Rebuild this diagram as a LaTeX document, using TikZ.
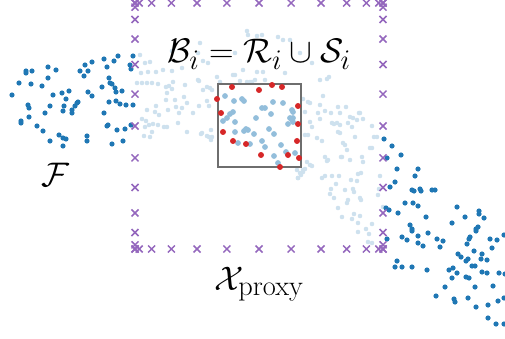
\documentclass[tikz,border=0pt]{standalone}
\usepackage{graphicx}
\usepackage{tikz}
\definecolor{ptblue}{HTML}{1F77B4}
\definecolor{ptred}{HTML}{D62728}
\definecolor{ptpurple}{HTML}{9467BD}
\definecolor{boxgray}{HTML}{6E6E6E}
\newcommand{\biglbl}[1]{\scalebox{1.37}{\Huge #1}}
\tikzset{
  farpt/.style={fill=ptblue},
  nearpt/.style={fill=ptblue!22},
  ownpt/.style={fill=ptblue!48},
  samppt/.style={fill=ptred},
  proxymark/.style={draw=ptpurple,line width=1.5pt},
  cellbox/.style={draw=boxgray,line width=1.8pt},
  biglabel/.style={inner sep=0pt}
}
\begin{document}
\begin{tikzpicture}[x=1pt,y=-1pt]
  \useasboundingbox (0,0) rectangle (505,339);
  \clip (0,0) rectangle (505,339);
  \foreach \x/\y in {140/55,145/63,150/62,141/73,148/72,156/72,137/83,142/83,147/83,152/83,158/84,166/87,169/86,172/89,167/93,175/100,166/100,184/97,187/103,198/80,203/90,207/87,207/101,199/106,182/108,179/113,176/107,156/106,155/112,159/115,147/110,142/119,146/121,149/125,145/127,153/124,158/125,152/132,144/136,150/137,167/127,178/123,187/132,202/133,207/136,211/130,172/51,203/61,208/63,163/70,172/71,182/68,173/82,185/85,199/81,212/90,193/113,209/106,168/110,201/134,209/137,164/127,247/31,248/35,257/36,257/72,247/82,235/75,243/70,200/43,198/53,235/53,262/35,278/37,283/40,290/40,300/53,312/63,285/73,263/72,255/80,217/77,220/82,233/75,250/82,240/81,252/82,265/80,210/88,212/137,320/80,327/79,329/77,323/96,303/99,308/102,310/103,305/112,320/105,318/113,325/111,331/113,338/107,346/107,340/113,359/113,353/118,357/120,363/119,350/117,360/113,320/119,332/123,334/124,337/123,348/123,372/126,310/122,312/127,352/127,340/125,338/132,340/133,308/135,317/138,322/141,343/143,345/145,355/137,374/137,377/137,347/150,372/148,370/148,325/157,362/157,328/160,342/157,350/160,363/162,310/165,327/161,341/157,305/169,312/166,298/178,301/175,322/178,325/176,332/176,339/176,336/184,351/180,357/181,358/174,361/173,380/176,331/189,330/194,345/190,353/189,354/192,334/198,348/200,347/203,360/198,361/200,379/189,378/195,338/208,342/217,354/214,360/216,352/219,358/223,372/224,366/229,358/232,369/234,368/242,372/243,297/170,300/173,298/178,303/170,211/140,383/207,305/135,307/162,303/172}
    \fill[nearpt] (\x,\y) circle[radius=2.3];
  \foreach \x/\y in {12/95,19/83,26/73,26/71,32/71,31/84,42/86,48/67,56/70,48/78,53/95,28/105,29/108,29/117,21/121,21/123,37/126,43/131,50/141,59/135,63/138,66/139,63/146,45/113,50/106,62/93,66/99,69/91,64/106,63/111,72/110,72/113,75/106,77/103,78/102,80/71,85/65,92/62,88/71,84/76,88/92,92/96,104/59,107/67,114/61,118/56,130/65,131/69,109/78,110/83,112/84,102/87,115/88,116/92,122/91,109/102,116/101,120/104,126/105,104/113,108/125,107/126,117/130,125/129,131/125,87/136,87/141,112/144,123/141,133/56,133/105,
    384/139,392/146,401/155,387/158,397/169,418/169,415/176,395/182,390/187,412/190,414/191,420/189,421/191,432/190,435/190,405/203,413/203,418/206,386/208,389/210,398/213,457/207,426/217,479/211,479/214,484/218,465/217,452/223,410/225,412/229,478/227,476/229,
    387/239,402/237,407/240,412/231,418/236,418/243,423/246,428/233,437/239,443/241,440/247,476/231,470/237,469/239,467/244,490/239,497/240,504/235,492/248,474/251,482/254,458/254,461/257,466/261,468/259,481/259,487/260,472/266,475/266,397/261,395/267,402/267,412/267,427/270,449/270,453/268,457/273,452/278,466/277,469/278,482/272,487/273,499/273,505/274,445/287,475/287,493/286,436/296,454/299,455/302,468/298,498/301,504/298,476/307,488/305,488/318,496/324,504/324}
    \fill[farpt] (\x,\y) circle[radius=2.6];
  \draw[cellbox] (218,84) rectangle (301,167);
  \foreach \x/\y in {225/96,234/101,242/99,244/101,262/108,265/108,273/102,283/103,292/110,293/112,290/118,293/118,292/120,288/124,293/122,271/114,256/118,233/112,230/114,227/118,223/121,235/122,246/129,248/130,244/131,269/129,254/134,235/132,238/143,250/144,262/141,265/147,274/134,281/145,274/156,286/152,295/153,278/163}
    \fill[ownpt] (\x,\y) circle[radius=2.9];
  \foreach \x/\y in {232/87,217/99,221/113,223/132,233/141,246/144,259/90,272/85,282/87,298/106,298/124,297/141,288/155,299/158,261/155,280/167}
    \fill[samppt] (\x,\y) circle[radius=3];
  \foreach \k in {0,...,12} {
    \pgfmathsetmacro\u{259-124*cos(\k*15)}
    \pgfmathsetmacro\v{126-123*cos(\k*15)}
    \draw[proxymark] (\u-3.5,-0.5) -- (\u+3.5,6.5) (\u-3.5,6.5) -- (\u+3.5,-0.5);
    \draw[proxymark] (\u-3.5,245.5) -- (\u+3.5,252.5) (\u-3.5,252.5) -- (\u+3.5,245.5);
    \draw[proxymark] (131.5,\v-3.5) -- (138.5,\v+3.5) (131.5,\v+3.5) -- (138.5,\v-3.5);
    \draw[proxymark] (379.5,\v-3.5) -- (386.5,\v+3.5) (379.5,\v+3.5) -- (386.5,\v-3.5);
  }
  \node[biglabel,anchor=base] (bset) at (259,63) {\biglbl{$\mathcal{B}_i = \mathcal{R}_i \cup \mathcal{S}_i$}};
  \node[biglabel,anchor=base] (fset) at (55,186) {\biglbl{$\mathcal{F}$}};
  \node[biglabel,anchor=base] (xset) at (259,290) {\biglbl{$\mathcal{X}_{\mathrm{proxy}}$}};
\end{tikzpicture}
\end{document}
